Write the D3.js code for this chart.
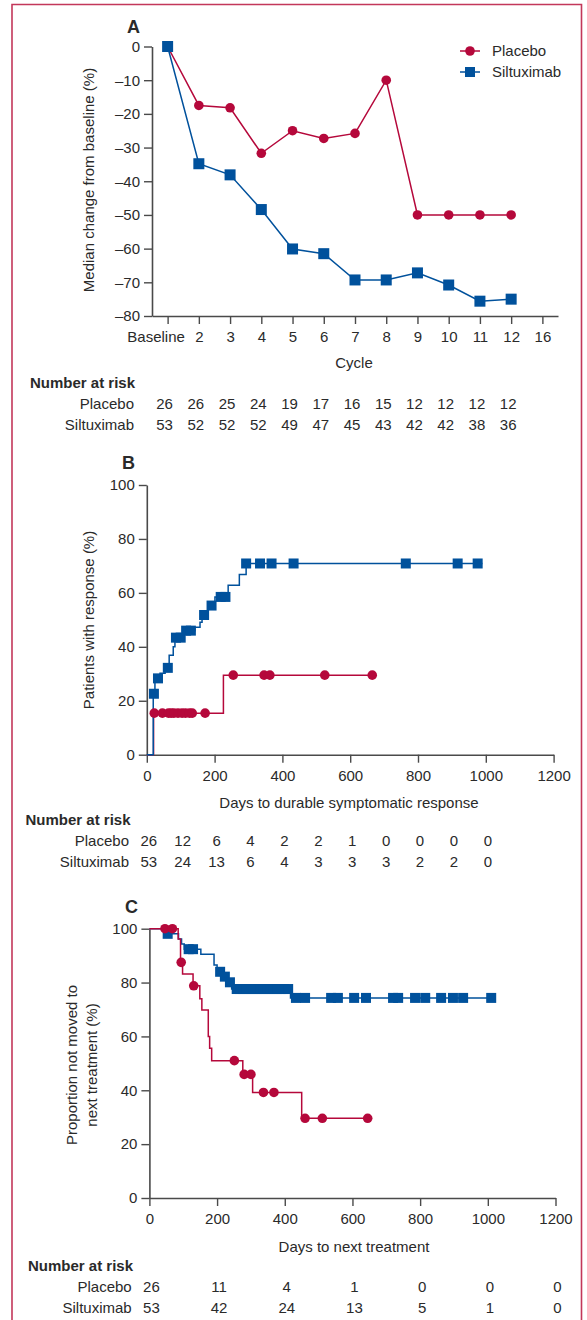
<!DOCTYPE html>
<html><head><meta charset="utf-8">
<script src="https://cdn.jsdelivr.net/npm/d3@7"></script>
<style>
html,body{margin:0;padding:0;background:#fff;}
svg text{font-family:"Liberation Sans",Arial,sans-serif;fill:#2a2a2a;}
</style></head>
<body>
<svg id="chart" width="587" height="1320"></svg>
<script>
// ---------- Panel A data ----------
const cycleLabels = ["Baseline","2","3","4","5","6","7","8","9","10","11","12","16"];
const placeboMedian = [0,-17.5,-18.2,-31.7,-25.0,-27.3,-25.8,-10.0,-50.0,-50.0,-50.0,-50.0];
const siltuximabMedian = [0,-34.8,-38.1,-48.4,-60.1,-61.5,-69.3,-69.3,-67.2,-70.8,-75.6,-75.0];
const yTicksA = [0,-10,-20,-30,-40,-50,-60,-70,-80];
const riskA_placebo = [26,26,25,24,19,17,16,15,12,12,12,12];
const riskA_siltuximab = [53,52,52,52,49,47,45,43,42,42,38,36];

// ---------- Panel B data (cumulative response, step curves) ----------
const B_placeboSteps = [[0,0],[20,15.4],[226,29.5],[665,29.5]];
const B_placeboCensor = [[22,15.4],[46,15.4],[64,15.4],[72,15.4],[80,15.4],[92,15.4],[104,15.4],[114,15.4],[126,15.4],[134,15.4],[172,15.4],
  [255,29.5],[346,29.5],[363,29.5],[525,29.5],[665,29.5]];
const B_siltSteps = [[0,0],[19,22.6],[24,28.3],[39,30.2],[54,32.2],[66,36.9],[78,40.0],[83,43.4],[106,46.0],[142,47.3],[157,49.1],[163,51.8],
  [181,55.3],[201,58.5],[240,62.8],[273,66.8],[293,70.9],[990,70.9]];
const B_siltCensor = [[21,22.6],[33,28.3],[62,32.2],[86,43.4],[100,43.4],[116,46.0],[130,46.0],[169,51.8],[191,55.3],[218,58.5],[232,58.5],
  [293,70.9],[334,70.9],[368,70.9],[433,70.9],[764,70.9],[917,70.9],[976,70.9]];
const B_riskDays = [0,100,200,300,400,500,600,700,800,900,1000];
const riskB_placebo = [26,12,6,4,2,2,1,0,0,0,0];
const riskB_siltuximab = [53,24,13,6,4,3,3,3,2,2,0];

// ---------- Panel C data (proportion not moved to next treatment) ----------
const C_placeboSteps = [[0,100],[85,96.2],[92,87.5],[98,83.2],[129,78.8],[149,74.0],[155,69.8],[174,60.0],[178,55.6],[184,51.0],
  [276,45.9],[305,39.2],[450,29.6],[645,29.6]];
const C_placeboCensor = [[46,100],[68,100],[94,87.5],[131,78.8],[251,51.0],[280,45.9],[300,45.9],[337,39.2],[368,39.2],[460,29.6],[511,29.6],[645,29.6]];
const C_siltSteps = [[0,100],[48,98.1],[86,96.2],[95,94.3],[103,92.4],[152,90.5],[191,86.5],[200,84.0],[215,82.2],[228,80.1],[243,77.6],
  [417,74.3],[1024,74.3]];
const C_siltCensor = [[54,98.1],[116,92.4],[129,92.4],[209,84.0],[223,82.2],[238,80.1],
  [258,77.6],[268,77.6],[278,77.6],[288,77.6],[298,77.6],[308,77.6],[318,77.6],[328,77.6],[338,77.6],[348,77.6],[358,77.6],[368,77.6],[378,77.6],[388,77.6],[398,77.6],[410,77.6],
  [433,74.3],[460,74.3],[537,74.3],[557,74.3],[605,74.3],[640,74.3],[720,74.3],[735,74.3],[785,74.3],[815,74.3],[862,74.3],[897,74.3],[927,74.3],[1010,74.3]];
const C_riskDays = [0,200,400,600,800,1000,1200];
const riskC_placebo = [26,11,4,1,0,0,0];
const riskC_siltuximab = [53,42,24,13,5,1,0];

const seriesNames = ["Placebo","Siltuximab"];
const xTicksDays = [0,200,400,600,800,1000,1200];
const yTicksBC = [0,20,40,60,80,100];

// ---------- styling ----------
const RED = "#b5083b", BLUE = "#00519c", AXIS = "#4a4a4a", BORDER = "#c3375a";
const FS = 15;
const svg = d3.select("#chart");

// border (left, top, right)
svg.append("path").attr("d","M12,1320 V4.5 H581.5 V1320").attr("fill","none").attr("stroke",BORDER).attr("stroke-width",1.6);

function styleAxis(g){
  g.selectAll("path.domain").attr("stroke",AXIS).attr("stroke-width",1.6);
  g.selectAll(".tick line").attr("stroke",AXIS).attr("stroke-width",1.4);
  g.selectAll(".tick text").attr("font-size",FS).attr("fill","#2a2a2a").attr("font-family","Liberation Sans, Arial, sans-serif");
}
const fmtMinus = d => d < 0 ? "\u2013" + Math.abs(d) : String(d);

function circles(g, data, x, y, r){
  g.selectAll(null).data(data).enter().append("circle")
    .attr("cx", d=>x(d[0])).attr("cy", d=>y(d[1])).attr("r", r).attr("fill", RED);
}
function squares(g, data, x, y, s){
  g.selectAll(null).data(data).enter().append("rect")
    .attr("x", d=>x(d[0])-s/2).attr("y", d=>y(d[1])-s/2).attr("width", s).attr("height", s).attr("fill", BLUE);
}
function riskTable(yTop, labelRight, xs, rowsArr, headerX){
  svg.append("text").attr("x",headerX).attr("y",yTop).attr("font-size",FS).attr("font-weight","bold").text("Number at risk");
  rowsArr.forEach((vals,i)=>{
    const yy = yTop + 21*(i+1);
    svg.append("text").attr("x",labelRight).attr("y",yy).attr("text-anchor","end").attr("font-size",FS).text(seriesNames[i]);
    svg.selectAll(null).data(vals).enter().append("text")
      .attr("x",(d,j)=>xs[j]).attr("y",yy).attr("text-anchor","middle").attr("font-size",FS).text(d=>d);
  });
}

// ================= PANEL A =================
{
  const x = d3.scalePoint().domain(cycleLabels).range([152,558]).padding(0.5);
  const y = d3.scaleLinear().domain([-80,0]).range([316,46.5]);
  const g = svg.append("g");
  const ya = g.append("g").attr("transform","translate(152,0)")
    .call(d3.axisLeft(y).tickValues(yTicksA).tickFormat(fmtMinus).tickSize(8).tickPadding(4).tickSizeOuter(0));
  styleAxis(ya);
  const xa = g.append("g").attr("transform","translate(0,316)")
    .call(d3.axisBottom(x).tickSize(8).tickPadding(4).tickSizeOuter(0));
  styleAxis(xa);
  xa.selectAll(".tick text").attr("dy","0.95em").attr("dx", d => d === "Baseline" ? -12 : 0);
  const pts = (arr) => arr.map((v,i)=>[cycleLabels[i], v]);
  const line = d3.line().x(d=>x(d[0])).y(d=>y(d[1]));
  g.append("path").datum(pts(placeboMedian)).attr("d",line).attr("fill","none").attr("stroke",RED).attr("stroke-width",1.5);
  g.append("path").datum(pts(siltuximabMedian)).attr("d",line).attr("fill","none").attr("stroke",BLUE).attr("stroke-width",1.5);
  circles(g, pts(placeboMedian).slice(1), x, y, 4.8);
  squares(g, pts(siltuximabMedian), x, y, 11);
  svg.append("text").attr("x",133.5).attr("y",33).attr("text-anchor","middle").attr("font-size",18).attr("font-weight","bold").text("A");
  svg.append("text").attr("transform","translate(94,180) rotate(-90)").attr("text-anchor","middle").attr("font-size",FS).text("Median change from baseline (%)");
  svg.append("text").attr("x",354).attr("y",368).attr("text-anchor","middle").attr("font-size",FS).text("Cycle");
  // legend
  const lg = svg.append("g");
  [["Placebo",RED,51],["Siltuximab",BLUE,72]].forEach(([name,col,yy],i)=>{
    lg.append("line").attr("x1",460).attr("x2",480).attr("y1",yy).attr("y2",yy).attr("stroke",col).attr("stroke-width",1.5);
    if(i===0) lg.append("circle").attr("cx",470).attr("cy",yy).attr("r",4.8).attr("fill",col);
    else lg.append("rect").attr("x",465).attr("y",yy-5).attr("width",10).attr("height",10).attr("fill",col);
    lg.append("text").attr("x",492).attr("y",yy+5).attr("font-size",FS).text(name);
  });
  const xs = cycleLabels.slice(0,12).map(c=>x(c) - 3);
  riskTable(388, 134, xs, [riskA_placebo, riskA_siltuximab], 30);
}

// ================= PANEL B =================
{
  const x = d3.scaleLinear().domain([0,1200]).range([146.8,553.6]);
  const y = d3.scaleLinear().domain([0,100]).range([754.7,485]);
  const g = svg.append("g");
  const ya = g.append("g").attr("transform","translate(146.8,0)")
    .call(d3.axisLeft(y).tickValues(yTicksBC).tickSize(8).tickPadding(4).tickSizeOuter(0));
  styleAxis(ya);
  const xa = g.append("g").attr("transform","translate(0,754.7)")
    .call(d3.axisBottom(x).tickValues(xTicksDays).tickFormat(d3.format("d")).tickSize(8).tickPadding(4).tickSizeOuter(0));
  styleAxis(xa);
  xa.selectAll(".tick text").attr("dy","0.95em");
  const step = d3.line().x(d=>x(d[0])).y(d=>y(d[1])).curve(d3.curveStepAfter);
  g.append("path").datum(B_placeboSteps).attr("d",step).attr("fill","none").attr("stroke",RED).attr("stroke-width",1.5);
  g.append("path").datum(B_siltSteps).attr("d",step).attr("fill","none").attr("stroke",BLUE).attr("stroke-width",1.5);
  circles(g, B_placeboCensor, x, y, 4.8);
  squares(g, B_siltCensor, x, y, 10);
  svg.append("text").attr("x",128.5).attr("y",469).attr("text-anchor","middle").attr("font-size",18).attr("font-weight","bold").text("B");
  svg.append("text").attr("transform","translate(94,620) rotate(-90)").attr("text-anchor","middle").attr("font-size",FS).text("Patients with response (%)");
  svg.append("text").attr("x",349).attr("y",808).attr("text-anchor","middle").attr("font-size",FS).text("Days to durable symptomatic response");
  riskTable(824.5, 129, B_riskDays.map(d=>x(d)+2), [riskB_placebo, riskB_siltuximab], 25.5);
}

// ================= PANEL C =================
{
  const x = d3.scaleLinear().domain([0,1200]).range([149.4,555.5]);
  const y = d3.scaleLinear().domain([0,100]).range([1198,928.7]);
  const g = svg.append("g");
  const ya = g.append("g").attr("transform","translate(149.4,0)")
    .call(d3.axisLeft(y).tickValues(yTicksBC).tickSize(8).tickPadding(4).tickSizeOuter(0));
  styleAxis(ya);
  const xa = g.append("g").attr("transform","translate(0,1198)")
    .call(d3.axisBottom(x).tickValues(xTicksDays).tickFormat(d3.format("d")).tickSize(8).tickPadding(4).tickSizeOuter(0));
  styleAxis(xa);
  xa.selectAll(".tick text").attr("dy","0.95em");
  const step = d3.line().x(d=>x(d[0])).y(d=>y(d[1])).curve(d3.curveStepAfter);
  g.append("path").datum(C_siltSteps).attr("d",step).attr("fill","none").attr("stroke",BLUE).attr("stroke-width",1.5);
  g.append("path").datum(C_placeboSteps).attr("d",step).attr("fill","none").attr("stroke",RED).attr("stroke-width",1.5);
  squares(g, C_siltCensor, x, y, 10);
  circles(g, C_placeboCensor, x, y, 4.8);
  svg.append("text").attr("x",131.5).attr("y",913).attr("text-anchor","middle").attr("font-size",18).attr("font-weight","bold").text("C");
  svg.append("text").attr("transform","translate(77,1065) rotate(-90)").attr("text-anchor","middle").attr("font-size",FS).text("Proportion not moved to");
  svg.append("text").attr("transform","translate(97,1065) rotate(-90)").attr("text-anchor","middle").attr("font-size",FS).text("next treatment (%)");
  svg.append("text").attr("x",354).attr("y",1252).attr("text-anchor","middle").attr("font-size",FS).text("Days to next treatment");
  riskTable(1270.5, 131.7, C_riskDays.map(d=>x(d)+2), [riskC_placebo, riskC_siltuximab], 28);
}
</script>
</body></html>
